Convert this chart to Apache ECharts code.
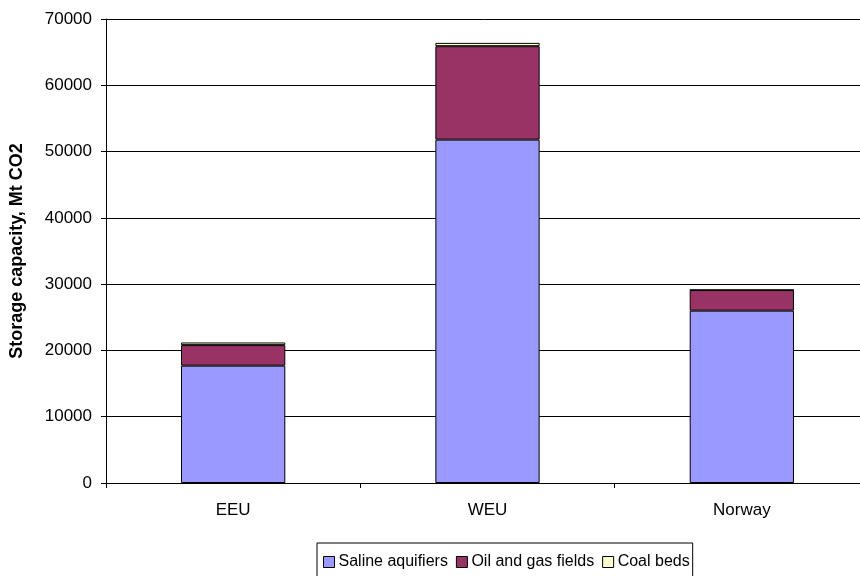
<!DOCTYPE html>
<html><head><meta charset="utf-8">
<script src="https://cdn.jsdelivr.net/npm/echarts@6/dist/echarts.min.js"></script>
<style>html,body{margin:0;padding:0;background:#fff}#c{width:860px;height:576px}</style>
</head><body><div id="c"></div>
<script>
const categories = ['EEU', 'WEU', 'Norway'];
const saline = [17700, 51800, 26000];
const oilGas = [3100, 14100, 3100];
const coal = [400, 500, 50];
const seriesNames = ['Saline aquifiers', 'Oil and gas fields', 'Coal beds'];
const colors = ['#9999FF', '#993366', '#FFFFCC'];

const chart = echarts.init(document.getElementById('c'));
const font = 'Liberation Sans, Arial, sans-serif';
const mk = (name, data, color) => ({
  name, type: 'bar', stack: 'a', data, barWidth: '41%',
  itemStyle: { color, borderColor: '#000', borderWidth: 1 },
  emphasis: { disabled: true }
});
chart.setOption({
  animation: false,
  textStyle: { fontFamily: font },
  grid: { left: 106, right: -9, top: 19, bottom: 93, outerBoundsMode: 'none', containLabel: false },
  xAxis: {
    type: 'category', data: categories,
    axisLine: { lineStyle: { color: '#000', width: 1 } },
    axisTick: { show: true, lineStyle: { color: '#000' }, length: 5 },
    axisLabel: { color: '#000', fontSize: 17, fontFamily: font, margin: 19 }
  },
  yAxis: {
    type: 'value', min: 0, max: 70000, interval: 10000,
    name: 'Storage capacity, Mt CO2', nameLocation: 'middle', nameGap: 80,
    nameTextStyle: { color: '#000', fontSize: 18, fontWeight: 'bold', fontFamily: font },
    axisLine: { show: true, lineStyle: { color: '#000' } },
    axisTick: { show: true, lineStyle: { color: '#000' }, length: 5 },
    axisLabel: { color: '#000', fontSize: 17, fontFamily: font, margin: 14, formatter: v => String(v) },
    splitLine: { lineStyle: { color: '#000', width: 1 } }
  },
  legend: {
    top: 543, left: 317, itemWidth: 11, itemHeight: 11, itemGap: 8,
    icon: 'rect', borderColor: '#000', borderWidth: 1, padding: [11, 3, 8, 6],
    textStyle: { color: '#000', fontSize: 16, fontFamily: font, padding: [0, 0, 0, -1] },
    itemStyle: { borderColor: '#000', borderWidth: 1 },
    data: seriesNames
  },
  series: [
    mk(seriesNames[0], saline, colors[0]),
    mk(seriesNames[1], oilGas, colors[1]),
    mk(seriesNames[2], coal, colors[2])
  ]
});
</script></body></html>
